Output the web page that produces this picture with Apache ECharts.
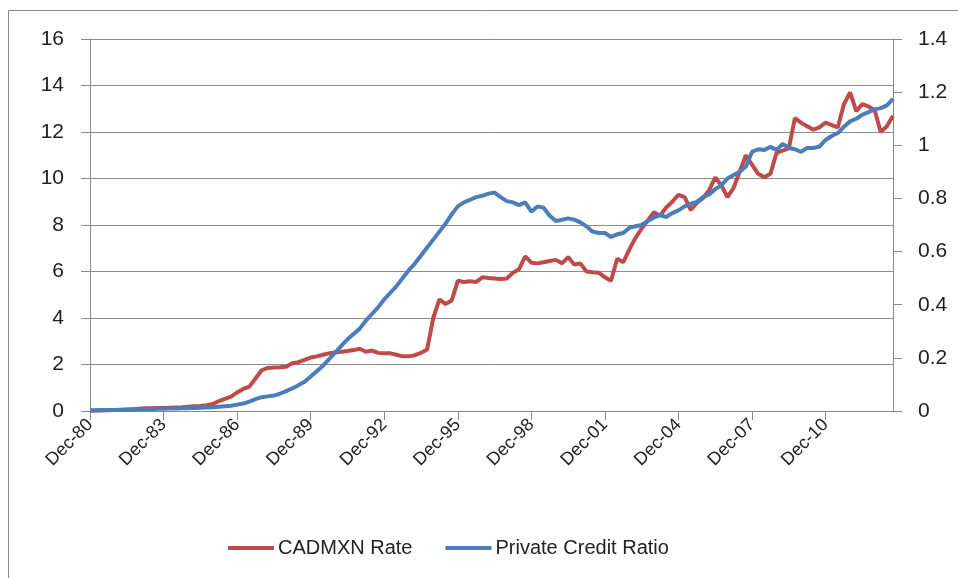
<!DOCTYPE html>
<html>
<head>
<meta charset="utf-8">
<script src="https://cdn.jsdelivr.net/npm/echarts@6/dist/echarts.min.js"></script>
<style>
html,body{margin:0;padding:0;background:#fff;}
#chart{width:958px;height:578px;}
</style>
</head>
<body>
<div id="chart"></div>
<script>
// Quarterly categories, Dec-80 .. Sep-13
var quarterMonths = ['Mar', 'Jun', 'Sep', 'Dec'];
var categories = [];
(function () {
  var y = 1980, q = 3;
  for (var k = 0; k < 132; k++) {
    categories.push(quarterMonths[q] + '-' + String(y % 100).padStart(2, '0'));
    q++; if (q > 3) { q = 0; y++; }
  }
})();

var leftTicks = [0, 2, 4, 6, 8, 10, 12, 14, 16];
var rightTicks = [0, 0.2, 0.4, 0.6, 0.8, 1, 1.2, 1.4];
var xTickLabels = ['Dec-80','Dec-83','Dec-86','Dec-89','Dec-92','Dec-95','Dec-98','Dec-01','Dec-04','Dec-07','Dec-10'];

var cadmxnRate = [
  0.02,0.02,0.03,0.03,0.04,0.04,0.06,0.08,0.10,0.12,
  0.12,0.13,0.13,0.14,0.15,0.16,0.18,0.20,0.22,0.25,
  0.30,0.42,0.52,0.62,0.80,0.95,1.05,1.40,1.75,1.85,
  1.87,1.88,1.90,2.05,2.10,2.20,2.30,2.35,2.42,2.48,
  2.52,2.55,2.58,2.62,2.68,2.55,2.60,2.50,2.48,2.48,
  2.42,2.35,2.35,2.40,2.50,2.65,4.00,4.80,4.60,4.75,
  5.60,5.55,5.58,5.55,5.75,5.72,5.70,5.68,5.70,5.95,
  6.10,6.65,6.38,6.35,6.40,6.45,6.50,6.35,6.62,6.30,
  6.35,6.00,5.97,5.95,5.75,5.60,6.55,6.40,6.95,7.45,
  7.85,8.20,8.55,8.40,8.75,9.00,9.30,9.20,8.65,8.95,
  9.15,9.50,10.05,9.70,9.20,9.60,10.30,11.00,10.60,10.20,
  10.05,10.20,11.10,11.20,11.30,12.60,12.40,12.25,12.10,12.20,
  12.40,12.30,12.20,13.20,13.70,12.90,13.20,13.10,12.95,12.00,
  12.25,12.70
];

var privateCreditRatio = [
  0.002,0.003,0.003,0.004,0.004,0.005,0.005,0.006,0.006,0.007,
  0.007,0.008,0.008,0.009,0.009,0.010,0.010,0.011,0.012,0.013,
  0.014,0.016,0.018,0.020,0.024,0.028,0.035,0.045,0.052,0.055,
  0.058,0.065,0.075,0.085,0.097,0.110,0.130,0.150,0.170,0.195,
  0.220,0.245,0.270,0.290,0.310,0.340,0.365,0.390,0.420,0.445,
  0.470,0.500,0.530,0.555,0.585,0.615,0.645,0.675,0.705,0.740,
  0.770,0.785,0.795,0.805,0.810,0.818,0.822,0.805,0.790,0.785,
  0.775,0.785,0.750,0.770,0.765,0.735,0.715,0.720,0.725,0.720,
  0.710,0.695,0.675,0.670,0.670,0.655,0.665,0.670,0.690,0.695,
  0.700,0.715,0.728,0.738,0.730,0.745,0.755,0.770,0.780,0.787,
  0.805,0.815,0.835,0.850,0.875,0.888,0.900,0.920,0.975,0.985,
  0.982,0.994,0.982,1.005,0.990,0.985,0.975,0.990,0.990,0.995,
  1.020,1.035,1.046,1.070,1.090,1.100,1.115,1.125,1.135,1.140,
  1.150,1.175
];

var FONT = 'Liberation Sans';
var chart = echarts.init(document.getElementById('chart'), null, {renderer: 'canvas'});
chart.setOption({
  animation: false,
  backgroundColor: '#ffffff',
  textStyle: {fontFamily: FONT},
  graphic: [{
    type: 'rect',
    shape: {x: 8.5, y: 10.5, width: 980, height: 600},
    style: {fill: 'none', stroke: '#8a8a8a', lineWidth: 1},
    silent: true, z: -1
  }],
  grid: {left: 90, right: 65, top: 39, bottom: 167, containLabel: false},
  legend: {
    left: 223, top: 533,
    itemWidth: 46, itemHeight: 4, itemGap: 33,
    icon: 'rect',
    textStyle: {fontFamily: FONT, fontSize: 20, color: '#222', padding: [0, 0, 0, -1]},
    data: ['CADMXN Rate', 'Private Credit Ratio']
  },
  xAxis: {
    type: 'category',
    data: categories,
    boundaryGap: false,
    axisLine: {lineStyle: {color: '#8a8a8a', width: 1}},
    axisTick: {show: true, interval: 11, length: 9, lineStyle: {color: '#8a8a8a'}},
    axisLabel: {
      interval: 11, rotate: 45, margin: 11,
      fontFamily: FONT, fontSize: 18, color: '#222',
      formatter: function (v) { return xTickLabels.indexOf(v) >= 0 ? v : ''; }
    },
    splitLine: {show: false}
  },
  yAxis: [{
    type: 'value', min: leftTicks[0], max: leftTicks[leftTicks.length - 1], interval: 2,
    position: 'left',
    axisLine: {show: true, lineStyle: {color: '#8a8a8a'}},
    axisTick: {show: true, length: 9, lineStyle: {color: '#8a8a8a'}},
    axisLabel: {margin: 26, fontFamily: FONT, fontSize: 21, color: '#222'},
    splitLine: {show: true, lineStyle: {color: '#8c8c8c', width: 1}}
  }, {
    type: 'value', min: rightTicks[0], max: rightTicks[rightTicks.length - 1], interval: 0.2,
    position: 'right',
    axisLine: {show: true, lineStyle: {color: '#8a8a8a'}},
    axisTick: {show: true, length: 9, lineStyle: {color: '#8a8a8a'}},
    axisLabel: {margin: 25, fontFamily: FONT, fontSize: 21, color: '#222',
      formatter: function (v) { return String(Math.round(v * 10) / 10); }},
    splitLine: {show: false}
  }],
  series: [{
    name: 'CADMXN Rate', type: 'line', yAxisIndex: 0,
    data: cadmxnRate, showSymbol: false, symbol: 'none',
    lineStyle: {color: '#BE4B48', width: 4}, itemStyle: {color: '#BE4B48'}, z: 3
  }, {
    name: 'Private Credit Ratio', type: 'line', yAxisIndex: 1,
    data: privateCreditRatio, showSymbol: false, symbol: 'none',
    lineStyle: {color: '#4A7EBB', width: 4}, itemStyle: {color: '#4A7EBB'}, z: 4
  }]
});
</script>
</body>
</html>
